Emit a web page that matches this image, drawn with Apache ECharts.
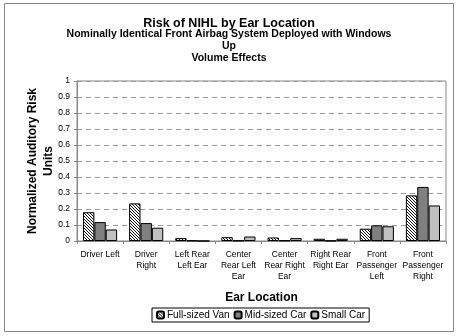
<!DOCTYPE html>
<html>
<head>
<meta charset="utf-8">
<script src="https://cdn.jsdelivr.net/npm/echarts@6/dist/echarts.min.js"></script>
<style>
  html, body { margin: 0; padding: 0; background: #fff; }
  #main { width: 458px; height: 336px; }
</style>
</head>
<body>
<div id="main"></div>
<script>
// categories (wrapped as in the original)
var categories = ['Driver Left', 'Driver\nRight', 'Left Rear\nLeft Ear', 'Center\nRear Left\nEar',
    'Center\nRear Right\nEar', 'Right Rear\nRight Ear', 'Front\nPassenger\nLeft', 'Front\nPassenger\nRight'];
var seriesNames = ['Full-sized Van', 'Mid-sized Car', 'Small Car'];
var vanValues   = [0.18, 0.235, 0.018, 0.024, 0.022, 0.014, 0.077, 0.285];
var midValues   = [0.118, 0.112, 0.003, 0.003, 0.004, 0.002, 0.098, 0.338];
var smallValues = [0.072, 0.083, 0.0, 0.028, 0.018, 0.014, 0.092, 0.222];
var yTicks = [0, 0.1, 0.2, 0.3, 0.4, 0.5, 0.6, 0.7, 0.8, 0.9, 1];

var FONT = '"Liberation Sans", Arial, sans-serif';

// diagonal hatch for the van bars
function hatch() {
    var c = document.createElement('canvas');
    c.width = 3; c.height = 3;
    var g = c.getContext('2d');
    g.fillStyle = '#ffffff';
    g.fillRect(0, 0, 3, 3);
    g.fillStyle = '#111111';
    for (var i = 0; i < 3; i++) {
        g.fillRect(i, i, 1, 1);
    }
    return c;
}
var vanFill = { image: hatch(), repeat: 'repeat' };

var myChart = echarts.init(document.getElementById('main'));

function bar(name, data, color) {
    return {
        name: name,
        type: 'bar',
        data: data,
        barGap: '0%',
        barCategoryGap: '26%',
        itemStyle: { color: color, borderColor: '#000', borderWidth: 1 }
    };
}

var option = {
    backgroundColor: '#fff',
    animation: false,
    title: [
        {
            text: 'Risk of NIHL by Ear Location',
            left: 'center', top: 12,
            textStyle: { fontFamily: FONT, fontSize: 12.5, fontWeight: 'bold', color: '#000' }
        },
        {
            text: 'Nominally Identical Front Airbag System Deployed with Windows\nUp\nVolume Effects',
            left: 'center', top: 23,
            textStyle: { fontFamily: FONT, fontSize: 10.5, fontWeight: 'bold', color: '#000', lineHeight: 12 }
        }
    ],
    graphic: [{
        type: 'rect',
        shape: { x: 4.5, y: 3.5, width: 449, height: 328 },
        style: { fill: 'none', stroke: '#888', lineWidth: 1 },
        z: -1
    }],
    legend: {
        data: seriesNames,
        left: 152, top: 308,
        itemWidth: 7, itemHeight: 7, itemGap: 4,
        padding: [2, 4],
        borderColor: '#000', borderWidth: 1,
        textStyle: { fontFamily: FONT, fontSize: 10, color: '#000', padding: [0, 0, 0, -2] }
    },
    grid: {
        left: 77, right: 12, top: 81, bottom: 95,
        show: true, borderColor: '#888', borderWidth: 1
    },
    xAxis: {
        type: 'category',
        data: categories,
        name: 'Ear Location',
        nameLocation: 'middle',
        nameGap: 51,
        nameMoveOverlap: false,
        nameTextStyle: { fontFamily: FONT, fontSize: 12, fontWeight: 'bold', color: '#000' },
        axisLine: { lineStyle: { color: '#888' } },
        axisTick: { show: true, length: 3, lineStyle: { color: '#888' } },
        axisLabel: { fontFamily: FONT, fontSize: 8.5, color: '#000', lineHeight: 11, margin: 8, interval: 0 }
    },
    yAxis: {
        type: 'value',
        min: 0, max: 1, interval: 0.1,
        name: 'Normalized Auditory Risk\nUnits',
        nameLocation: 'middle',
        nameGap: 20,
        nameMoveOverlap: false,
        nameTextStyle: { fontFamily: FONT, fontSize: 12, fontWeight: 'bold', color: '#000', lineHeight: 16 },
        axisLine: { show: true, lineStyle: { color: '#888' } },
        axisTick: { show: true, length: 3, lineStyle: { color: '#888' } },
        axisLabel: {
            fontFamily: FONT, fontSize: 8.5, color: '#000', margin: 7,
            formatter: function (v) {
                var t = yTicks.find(function (x) { return Math.abs(x - v) < 1e-6; });
                return t === undefined ? '' : String(t);
            }
        },
        splitLine: { show: true, lineStyle: { color: '#999', type: [5, 4] } }
    },
    series: [
        bar(seriesNames[0], vanValues, vanFill),
        bar(seriesNames[1], midValues, '#808080'),
        bar(seriesNames[2], smallValues, '#c0c0c0')
    ]
};
myChart.setOption(option);
</script>
</body>
</html>
